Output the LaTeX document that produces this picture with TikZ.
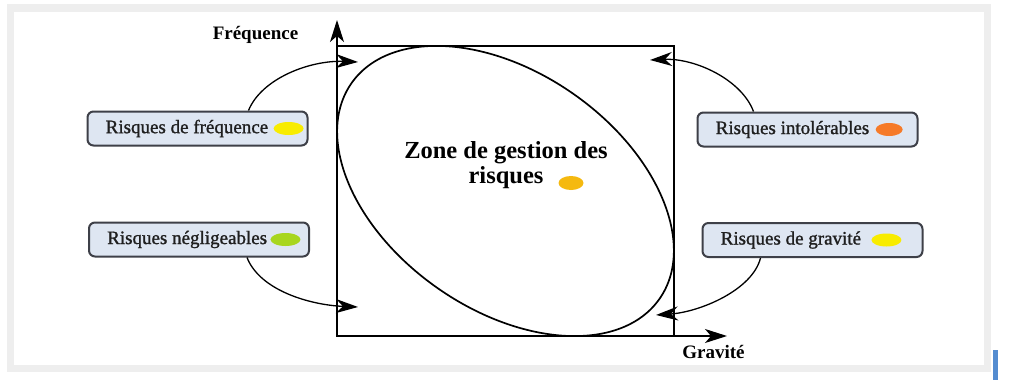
\documentclass[tikz,border=0pt]{standalone}
\usepackage{fontspec}
\setmainfont{Liberation Serif}
\newfontfamily\labelfont[FakeBold=1.2]{Liberation Serif}
\usetikzlibrary{arrows.meta}
\usetikzlibrary{positioning}
\usetikzlibrary{shapes.geometric}
\usepackage{xcolor}

\definecolor{boxfill}{RGB}{222,230,242}
\definecolor{boxline}{RGB}{62,64,72}
\definecolor{dotyellow}{RGB}{248,236,0}
\definecolor{dotgreen}{RGB}{168,214,30}
\definecolor{dotorange}{RGB}{246,122,40}
\definecolor{dotgold}{RGB}{245,185,15}
\definecolor{framegray}{RGB}{238,238,238}
\definecolor{markblue}{RGB}{84,140,208}

\begin{document}
\begin{tikzpicture}[
                x=1pt, y=-1pt,
                riskbox/.style={rectangle, draw=boxline, fill=boxfill, line width=2pt,
                    minimum width=220pt, minimum height=34pt, rounded corners=6pt},
                risklabel/.style={inner sep=0pt, text=black!88, font=\labelfont\fontsize{19}{21}\selectfont},
                axislabel/.style={inner sep=0pt, font=\fontsize{19}{21}\selectfont\bfseries},
                zonelabel/.style={inner sep=0pt, align=center, font=\fontsize{24.5}{25.5}\selectfont\bfseries},
                dot/.style={ellipse, inner sep=0pt, draw=none, minimum width=30pt, minimum height=13pt},
                axis/.style={-{Stealth[length=22pt, width=14pt, inset=6pt]}, line width=1.4pt},
                arrow/.style={-{Stealth[length=22pt, width=14pt, inset=7pt]}, line width=1.3pt},
            ]
            \useasboundingbox (0,0) rectangle (1009,383);

            % Frame
            \fill[framegray] (7,4) rectangle (991,372);
            \fill[white] (14,12) rectangle (984,365);
            \fill[markblue] (993,350) rectangle (998,380);

            % Axes and box
            \coordinate (origin) at (337,336);
            \coordinate (yaxis_end) at (337,20);
            \coordinate (xaxis_end) at (727,336);
            \coordinate (box_tr) at (674,46);
            \draw[line width=1.4pt] (origin) rectangle (box_tr);
            \draw[axis] (origin) -- (yaxis_end);
            \draw[axis] (origin) -- (xaxis_end);
            \node[axislabel] (freq_axis) at (255.5,35) {Fréquence};
            \node[axislabel] (grav_axis) at (713.5,352) {Gravité};

            % Zone
            \draw[line width=1.7pt, rotate around={-35:(505.5,191)}] (505.5,191) ellipse [x radius=188, y radius=118.5];
            \node[zonelabel] (zone) at (506,165) {Zone de gestion des\\risques};
            \node[dot, fill=dotgold, minimum width=25pt, minimum height=14pt] (zone_dot) at (571,183) {};

            % Nodes
            \node[riskbox] (freq) at (197.5,128.5) {};
            \node[risklabel, anchor=west] (freq_txt) at ([xshift=19pt]freq.west) {Risques de fréquence};
            \node[dot, fill=dotyellow, right=5pt of freq_txt] (freq_dot) {};

            \node[riskbox] (negl) at (199,239.5) {};
            \node[risklabel, anchor=west] (negl_txt) at ([xshift=19pt]negl.west) {Risques négligeables};
            \node[dot, fill=dotgreen, right=3pt of negl_txt] (negl_dot) {};

            \node[riskbox] (intol) at (807.5,129.5) {};
            \node[risklabel, anchor=west] (intol_txt) at ([xshift=19pt]intol.west) {Risques intolérables};
            \node[dot, fill=dotorange, minimum width=27pt, right=6pt of intol_txt] (intol_dot) {};

            \node[riskbox] (grav) at (812.5,240) {};
            \node[risklabel, anchor=west] (grav_txt) at ([xshift=19pt]grav.west) {Risques de gravité};
            \node[dot, fill=dotyellow, right=10pt of grav_txt] (grav_dot) {};

            % Arrows
            \coordinate (freq_end) at (358,62);
            \coordinate (negl_end) at (358,307);
            \coordinate (intol_end) at (650,60);
            \coordinate (grav_end) at (656,315);
            \draw[arrow] ([xshift=51pt]freq.north) .. controls +(13,-32) and +(-48,-2) .. (freq_end);
            \draw[arrow] ([xshift=48pt]negl.south) .. controls +(13,33) and +(-48,-2) .. (negl_end);
            \draw[arrow] ([xshift=-54pt]intol.north) .. controls +(-12,-32) and +(45,-2) .. (intol_end);
            \draw[arrow] ([xshift=-52pt]grav.south) .. controls +(-8,32) and +(44,-3) .. (grav_end);

            \end{tikzpicture}
\end{document}
